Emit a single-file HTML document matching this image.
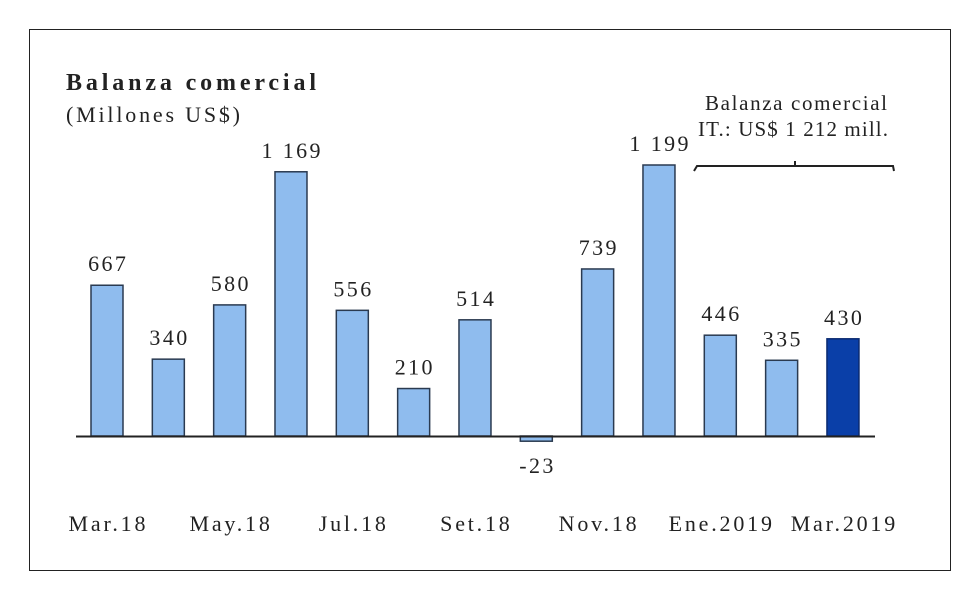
<!DOCTYPE html>
<html><head><meta charset="utf-8"><style>
body{margin:0;background:#fff;}
svg text{font-family:"Liberation Serif",serif;fill:#222;}
</style></head><body>
<svg width="980" height="600">
<rect x="29.5" y="29.5" width="921" height="541" fill="#fff" stroke="#222" stroke-width="1"/>
<text x="66" y="90" font-size="24" font-weight="bold" textLength="250" lengthAdjust="spacing">Balanza comercial</text>
<text x="66" y="122" font-size="22" fill="#444" textLength="174" lengthAdjust="spacing">(Millones US$)</text>
<g id="bars"></g>
<line x1="76" y1="436.5" x2="875" y2="436.5" stroke="#222" stroke-width="2"/>
<text x="705" y="110" font-size="21" fill="#333" textLength="182" lengthAdjust="spacing">Balanza comercial</text>
<text x="698" y="136" font-size="21" fill="#333" textLength="190" lengthAdjust="spacing">IT.: US$ 1 212 mill.</text>
<path d="M694,171 L697,166 L893,166 L894,171 M795,166 L795,161" fill="none" stroke="#222" stroke-width="2"/>
<g id="xlabels"></g>
</svg>
<script>
const categories=["Mar.18","Abr.18","May.18","Jun.18","Jul.18","Ago.18","Set.18","Oct.18","Nov.18","Dic.18","Ene.2019","Feb.2019","Mar.2019"];
const values=[667,340,580,1169,556,210,514,-23,739,1199,446,335,430];
const valueLabels=["667","340","580","1 169","556","210","514","-23","739","1 199","446","335","430"];
const shownTicks=[0,2,4,6,8,10,12];
const ns="http://www.w3.org/2000/svg";
const baseY=436, scaleK=271/1199, x0=91, step=61.33, bw=32;
function xPos(i){return x0+i*step;}
function yPos(v){return baseY-v*scaleK;}
const g=document.getElementById('bars');
values.forEach((v,i)=>{
  const r=document.createElementNS(ns,'rect');
  const y=Math.min(yPos(v),baseY), h=Math.abs(yPos(v)-baseY);
  r.setAttribute('x',xPos(i));r.setAttribute('y',y);r.setAttribute('width',bw);r.setAttribute('height',Math.max(h,1));
  r.setAttribute('fill',i===values.length-1?'#0a3fa8':'#8fbcee');
  r.setAttribute('stroke',i===values.length-1?'#0a2a70':'#2a3a50');r.setAttribute('stroke-width','1.5');
  
  
  g.appendChild(r);
  const t=document.createElementNS(ns,'text');
  t.setAttribute('x',xPos(i)+bw/2+1.2);
  t.setAttribute('y',v>=0?yPos(v)-14:yPos(v)+32);
  t.setAttribute('font-size','22');t.setAttribute('text-anchor','middle');
  t.setAttribute('letter-spacing','2.4');
  t.textContent=valueLabels[i];
  
  
  g.appendChild(t);
});
const xl=document.getElementById('xlabels');
shownTicks.forEach(i=>{
  const t=document.createElementNS(ns,'text');
  t.setAttribute('x',xPos(i)+bw/2+1.4);t.setAttribute('y',531);
  t.setAttribute('font-size','22');t.setAttribute('text-anchor','middle');
  t.setAttribute('letter-spacing','2.8');
  t.textContent=categories[i];
  
  
  xl.appendChild(t);
});
</script>
</body></html>
